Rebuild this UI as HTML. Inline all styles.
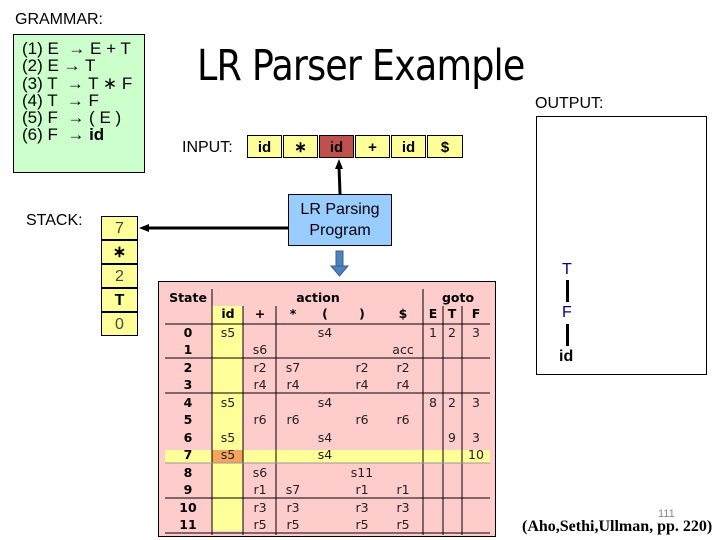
<!DOCTYPE html>
<html><head><meta charset="utf-8"><style>
body{margin:0;width:720px;height:540px;background:#fff;position:relative;overflow:hidden;font-family:"Liberation Sans",Arial,sans-serif}
.a{position:absolute}
.g{left:13px;top:34px;width:130px;height:137px;background:#ccffcc;border:1px solid #000}
.gl{position:absolute;left:8px;font-size:17px;line-height:17px}
.cell{position:absolute;top:135px;width:35px;height:23px;border:1px solid #000;background:#ffff99;text-align:center;font-size:15px;line-height:23px;font-weight:bold;box-sizing:border-box}
.st{position:absolute;left:101px;width:37px;height:24px;border:1px solid #000;background:#ffff99;text-align:center;font-size:16px;line-height:23px;box-sizing:border-box}
.t{position:absolute;font-family:Tahoma,"DejaVu Sans",sans-serif;font-size:12.5px;text-align:center;width:30px;margin-left:-15px;color:#222}
.h{font-weight:bold;color:#000}
</style></head><body>
<div class="a" style="left:15px;top:11px;font-size:16px">GRAMMAR:</div>
<div class="a g">
<div class="gl" style="top:5px">(1) E &nbsp;→ E + T</div>
<div class="gl" style="top:22px">(2) E → T</div>
<div class="gl" style="top:40px">(3) T &nbsp;→ T ∗ F</div>
<div class="gl" style="top:57px">(4) T &nbsp;→ F</div>
<div class="gl" style="top:74px">(5) F &nbsp;→ ( E )</div>
<div class="gl" style="top:91px">(6) F &nbsp;→ <b>id</b></div>
</div>
<div class="a" style="left:197px;top:41px;font-size:43px;font-family:'DejaVu Sans',sans-serif;letter-spacing:-1px;transform:scaleX(0.85);transform-origin:0 0;white-space:nowrap">LR Parser Example</div>
<div class="a" style="left:182px;top:139px;font-size:16px">INPUT:</div>
<div class="cell" style="left:247px">id</div>
<div class="cell" style="left:283px">∗</div>
<div class="cell" style="left:319px;background:#c0504d">id</div>
<div class="cell" style="left:355px">+</div>
<div class="cell" style="left:391px">id</div>
<div class="cell" style="left:427px;width:36px">$</div>
<div class="a" style="left:26px;top:212px;font-size:16px">STACK:</div>
<div class="st" style="top:216px;color:#444">7</div>
<div class="st" style="top:240px;font-weight:bold">∗</div>
<div class="st" style="top:264px;color:#444">2</div>
<div class="st" style="top:288px;font-weight:bold">T</div>
<div class="st" style="top:312px;color:#444;height:24px">0</div>
<div class="a" style="left:288px;top:194px;width:104px;height:52px;background:#99ccff;border:1px solid #000;box-sizing:border-box;text-align:center;font-size:16px;line-height:21px;padding-top:4px">LR Parsing<br>Program</div>
<svg class="a" style="left:0;top:0" width="720" height="540">
<line x1="288" y1="228" x2="146" y2="228" stroke="#000" stroke-width="3"/>
<polygon points="139,228 149,224 149,232" fill="#000"/>
<line x1="340" y1="194" x2="339" y2="166" stroke="#000" stroke-width="3"/>
<polygon points="339,159 335,169 343,169" fill="#000"/>
<rect x="336" y="251" width="7" height="16" fill="#4f81bd" stroke="#365f91"/>
<polygon points="331,266 348,266 339.5,276" fill="#4f81bd" stroke="#365f91"/>
</svg>
<div class="a" style="left:535px;top:95px;font-size:16px">OUTPUT:</div>
<div class="a" style="left:536px;top:116px;width:171px;height:259px;border:1px solid #000;box-sizing:border-box"></div>
<div class="a" style="left:562px;top:261px;font-size:16px;color:#000080">T</div>
<div class="a" style="left:566px;top:280px;width:3px;height:22px;background:#000"></div>
<div class="a" style="left:562px;top:304px;font-size:16px;color:#000080">F</div>
<div class="a" style="left:566px;top:324px;width:3px;height:22px;background:#000"></div>
<div class="a" style="left:559px;top:348px;font-size:16px;font-weight:bold">id</div>
<div class="a" style="left:658px;top:508px;font-size:11px;color:#888">111</div>
<div class="a" style="left:522px;top:518px;font-size:16px;font-family:'Liberation Serif',serif;font-weight:bold;white-space:nowrap">(Aho,Sethi,Ullman, pp. 220)</div>
<!-- table -->
<div class="a" style="left:158px;top:281px;width:338px;height:256px;background:#ffcccc;border:1px solid #000;box-sizing:border-box"></div>
<div class="a" style="left:212px;top:306px;width:31px;height:225px;background:#ffff99"></div>
<div class="a" style="left:165px;top:450px;width:325px;height:13px;background:#ffff99"></div>
<div class="a" style="left:212px;top:450px;width:31px;height:13px;background:#f4a460"></div>
<svg class="a" style="left:0;top:0" width="720" height="540">
<g stroke="#000" stroke-width="1">
<line x1="212" y1="289" x2="212" y2="535"/>
<line x1="243" y1="306" x2="243" y2="535"/>
<line x1="276" y1="306" x2="276" y2="535"/>
<line x1="423" y1="289" x2="423" y2="535"/>
<line x1="443" y1="306" x2="443" y2="535"/>
<line x1="462" y1="306" x2="462" y2="535"/>
<line x1="165" y1="324" x2="490" y2="324"/>
<line x1="165" y1="358" x2="490" y2="358"/>
<line x1="165" y1="393" x2="490" y2="393"/>
<line x1="165" y1="463" x2="490" y2="463" stroke="#999"/>
<line x1="165" y1="498" x2="490" y2="498"/>
<line x1="165" y1="533" x2="490" y2="533"/>
</g></svg>
<div class="t h" style="left:188px;top:290px;width:50px;margin-left:-25px">State</div>
<div class="t h" style="left:318px;top:290px;width:60px;margin-left:-30px">action</div>
<div class="t h" style="left:458px;top:290px;width:40px;margin-left:-20px">goto</div>
<div class="t h" style="left:228px;top:306px">id</div>
<div class="t h" style="left:260px;top:306px">+</div>
<div class="t h" style="left:293px;top:306px">*</div>
<div class="t h" style="left:325px;top:306px">(</div>
<div class="t h" style="left:362px;top:306px">)</div>
<div class="t h" style="left:403px;top:306px">$</div>
<div class="t h" style="left:433px;top:306px">E</div>
<div class="t h" style="left:452px;top:306px">T</div>
<div class="t h" style="left:476px;top:306px">F</div>
<div class="t h" style="left:188px;top:325px">0</div><div class="t" style="left:228px;top:325px">s5</div><div class="t" style="left:325px;top:325px">s4</div><div class="t" style="left:433px;top:325px">1</div><div class="t" style="left:452px;top:325px">2</div><div class="t" style="left:476px;top:325px">3</div>
<div class="t h" style="left:188px;top:342px">1</div><div class="t" style="left:260px;top:342px">s6</div><div class="t" style="left:403px;top:342px">acc</div>
<div class="t h" style="left:188px;top:360px">2</div><div class="t" style="left:260px;top:360px">r2</div><div class="t" style="left:293px;top:360px">s7</div><div class="t" style="left:362px;top:360px">r2</div><div class="t" style="left:403px;top:360px">r2</div>
<div class="t h" style="left:188px;top:377px">3</div><div class="t" style="left:260px;top:377px">r4</div><div class="t" style="left:293px;top:377px">r4</div><div class="t" style="left:362px;top:377px">r4</div><div class="t" style="left:403px;top:377px">r4</div>
<div class="t h" style="left:188px;top:395px">4</div><div class="t" style="left:228px;top:395px">s5</div><div class="t" style="left:325px;top:395px">s4</div><div class="t" style="left:433px;top:395px">8</div><div class="t" style="left:452px;top:395px">2</div><div class="t" style="left:476px;top:395px">3</div>
<div class="t h" style="left:188px;top:412px">5</div><div class="t" style="left:260px;top:412px">r6</div><div class="t" style="left:293px;top:412px">r6</div><div class="t" style="left:362px;top:412px">r6</div><div class="t" style="left:403px;top:412px">r6</div>
<div class="t h" style="left:188px;top:430px">6</div><div class="t" style="left:228px;top:430px">s5</div><div class="t" style="left:325px;top:430px">s4</div><div class="t" style="left:452px;top:430px">9</div><div class="t" style="left:476px;top:430px">3</div>
<div class="t h" style="left:188px;top:447px">7</div><div class="t" style="left:228px;top:447px">s5</div><div class="t" style="left:325px;top:447px">s4</div><div class="t" style="left:476px;top:447px">10</div>
<div class="t h" style="left:188px;top:465px">8</div><div class="t" style="left:260px;top:465px">s6</div><div class="t" style="left:362px;top:465px">s11</div>
<div class="t h" style="left:188px;top:482px">9</div><div class="t" style="left:260px;top:482px">r1</div><div class="t" style="left:293px;top:482px">s7</div><div class="t" style="left:362px;top:482px">r1</div><div class="t" style="left:403px;top:482px">r1</div>
<div class="t h" style="left:188px;top:500px">10</div><div class="t" style="left:260px;top:500px">r3</div><div class="t" style="left:293px;top:500px">r3</div><div class="t" style="left:362px;top:500px">r3</div><div class="t" style="left:403px;top:500px">r3</div>
<div class="t h" style="left:188px;top:517px">11</div><div class="t" style="left:260px;top:517px">r5</div><div class="t" style="left:293px;top:517px">r5</div><div class="t" style="left:362px;top:517px">r5</div><div class="t" style="left:403px;top:517px">r5</div>
</body></html>
